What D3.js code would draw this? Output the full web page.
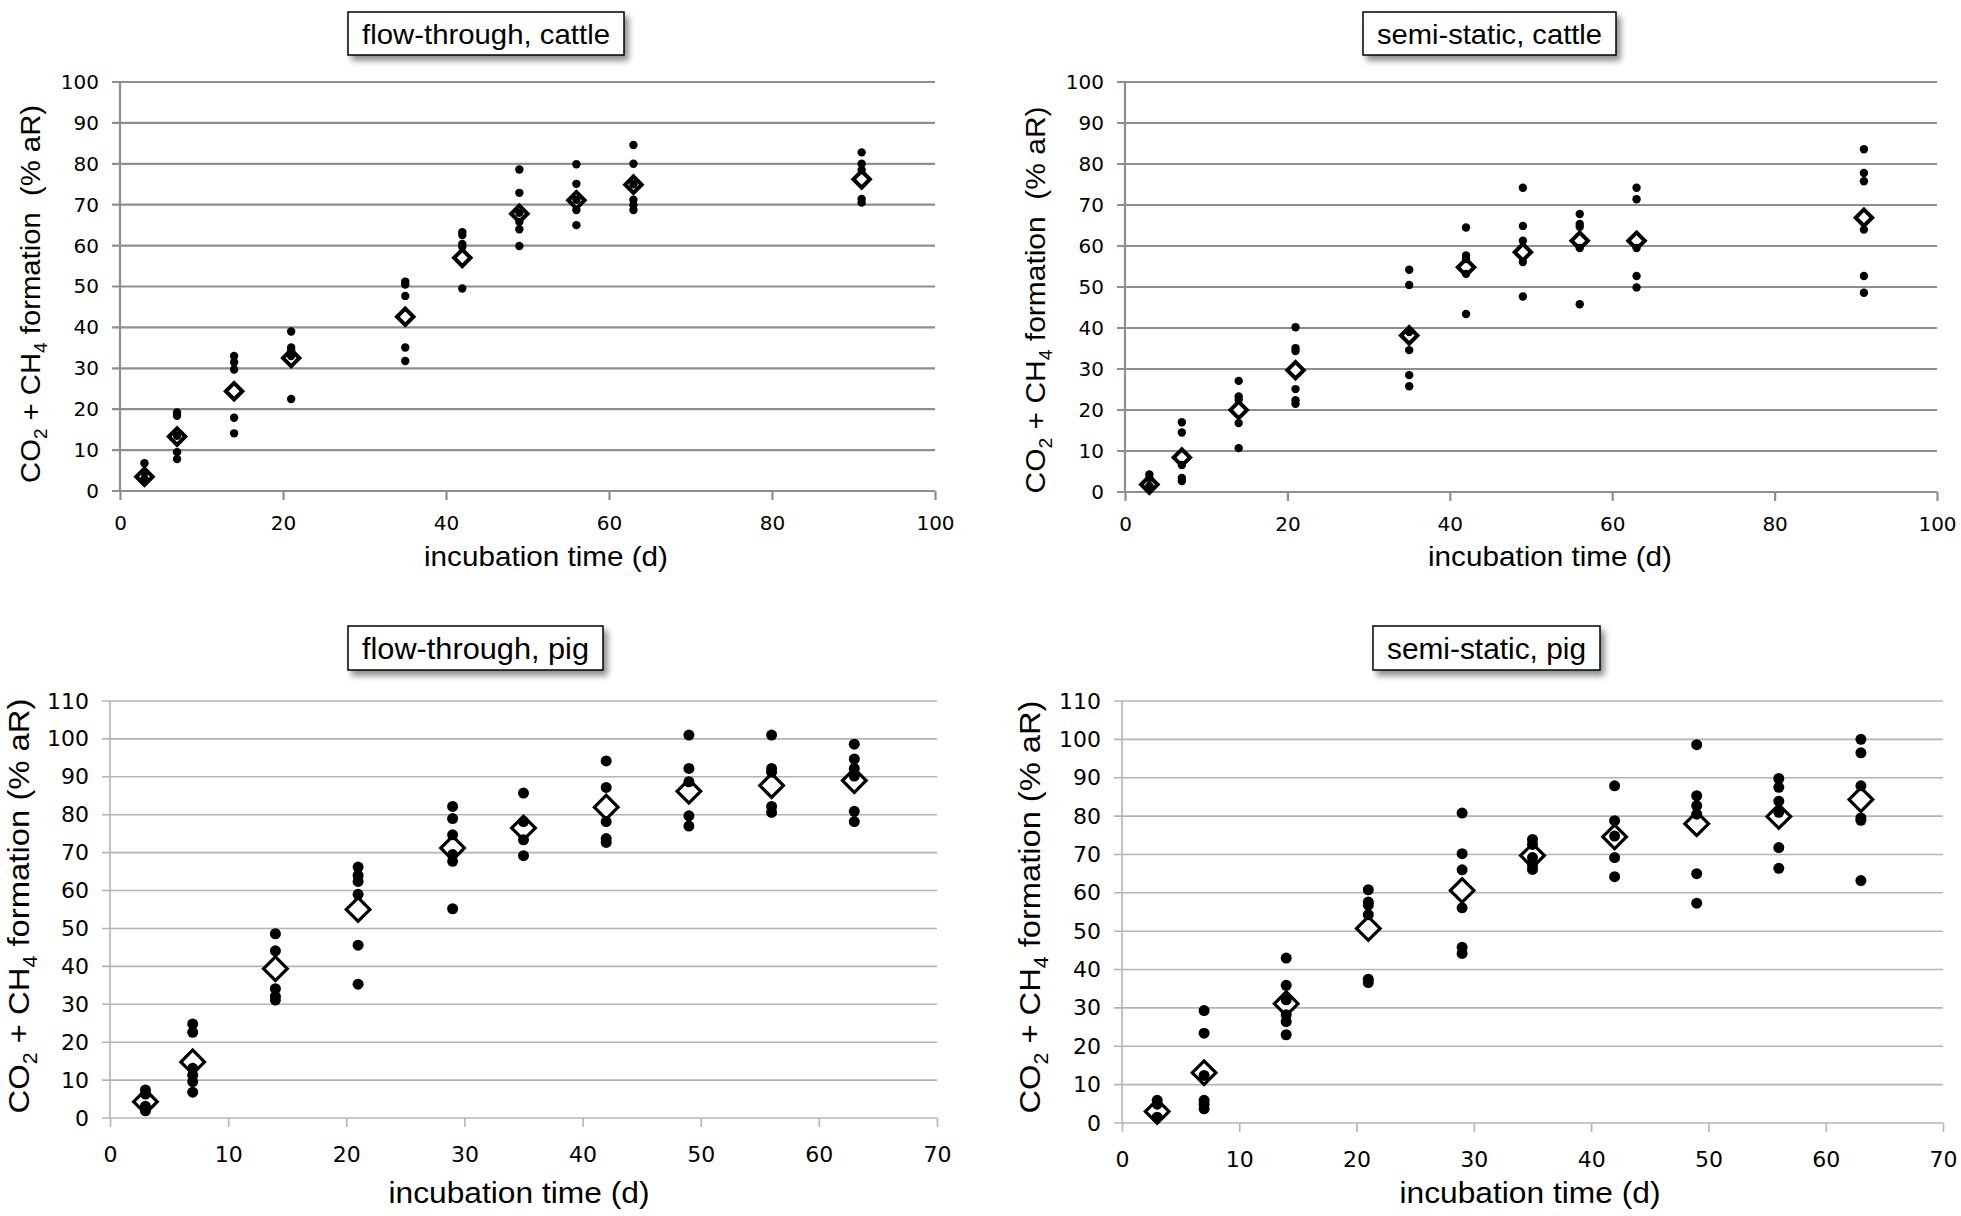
<!DOCTYPE html>
<html>
<head>
<meta charset="utf-8">
<title>CO2 + CH4 formation</title>
<script src="https://cdn.jsdelivr.net/npm/d3@7"></script>
<style>
  body { margin: 0; background: #fff; }
  text { font-family: "DejaVu Sans", sans-serif; }
</style>
</head>
<body>
<div id="chart"></div>
<script>
// incubation days
var daysCattle = [3, 7, 14, 21, 35, 42, 49, 56, 63, 91];
var daysPig = [3, 7, 14, 21, 29, 35, 42, 49, 56, 63];

// replicate values (% aR), one list per day
var ftCattleReps = [
  [6.8, 4.5, 3.0, 2.3], [19.2, 18.4, 13.5, 9.5, 7.8], [33.0, 31.5, 29.7, 17.9, 14.1],
  [39.0, 35.1, 34.4, 33.0, 22.5], [51.2, 50.5, 47.7, 35.1, 31.8], [63.3, 62.6, 60.4, 59.7, 49.5],
  [78.6, 72.9, 68.0, 65.8, 64.0, 59.9], [79.9, 75.1, 71.2, 68.7, 65.0], [84.6, 80.0, 75.0, 71.2, 69.9, 68.7],
  [82.8, 80.0, 78.5, 71.4, 70.5]
];
var ftCattleMean = [3.5, 13.3, 24.4, 32.5, 42.6, 57.0, 67.8, 71.1, 74.9, 76.2];

var ssCattleReps = [
  [4.3, 3.4, 1.5, 1.0], [17.0, 14.5, 6.6, 3.4, 2.7], [27.1, 23.3, 22.5, 16.8, 10.7],
  [40.2, 35.1, 34.4, 25.1, 22.4, 21.5], [54.2, 50.5, 39.0, 34.6, 28.5, 25.8], [64.5, 57.7, 56.8, 53.2, 43.4],
  [74.2, 64.9, 61.3, 56.1, 47.7], [67.8, 65.4, 64.7, 59.5, 45.8], [74.2, 71.4, 59.5, 52.7, 49.9],
  [83.6, 77.8, 75.8, 64.0, 52.7, 48.6]
];
var ssCattleMean = [1.8, 8.4, 20.0, 29.7, 38.2, 54.8, 58.5, 61.3, 61.3, 66.9];

var ftPigReps = [
  [7.4, 6.3, 3.1, 1.9], [24.8, 22.6, 13.1, 11.3, 9.6, 6.8], [48.6, 44.1, 34.1, 32.1, 31.1],
  [66.2, 64.0, 62.4, 59.0, 45.6, 35.3], [82.2, 79.0, 74.7, 69.5, 67.7, 55.2], [85.7, 78.2, 73.4, 69.2],
  [94.2, 87.2, 78.2, 73.7, 72.7], [101.0, 92.2, 88.7, 79.7, 77.0], [101.0, 92.2, 91.2, 82.2, 80.6],
  [98.6, 94.7, 92.2, 90.2, 80.9, 78.2]
];
var ftPigMean = [4.3, 14.8, 39.4, 55.0, 71.2, 76.5, 82.0, 86.2, 87.7, 89.0];

var ssPigReps = [
  [5.9, 4.9, 1.5], [29.3, 23.4, 12.4, 5.9, 4.9, 3.7], [43.0, 35.9, 32.1, 28.2, 26.4, 23.0],
  [60.8, 57.6, 56.8, 54.3, 37.5, 36.6], [80.8, 70.2, 66.0, 56.1, 45.8, 44.2], [73.9, 72.6, 69.2, 67.2, 66.1],
  [87.9, 78.8, 74.8, 69.2, 64.2], [98.6, 85.3, 82.7, 80.5, 65.0, 57.3], [89.8, 87.5, 83.9, 81.0, 71.8, 66.4],
  [100.0, 96.5, 87.9, 79.5, 78.9, 63.2]
];
var ssPigMean = [3.0, 13.1, 31.1, 50.7, 60.6, 69.7, 74.6, 78.0, 79.9, 84.3];

var titles = ["flow-through, cattle", "semi-static, cattle", "flow-through, pig", "semi-static, pig"];
var xTitle = "incubation time (d)";

var svg = d3.select("#chart").append("svg")
    .attr("width", 1961)
    .attr("height", 1216);

svg.append("rect").attr("width", 1961).attr("height", 1216).attr("fill", "#fff");

var defs = svg.append("defs");
var shadow = defs.append("filter").attr("id", "shadow")
    .attr("x", "-20%").attr("y", "-40%").attr("width", "140%").attr("height", "200%");
shadow.append("feGaussianBlur").attr("in", "SourceAlpha").attr("stdDeviation", 3);
shadow.append("feOffset").attr("dx", 4).attr("dy", 5).attr("result", "off");
shadow.append("feComponentTransfer").append("feFuncA").attr("type", "linear").attr("slope", 0.45);
var merge = shadow.append("feMerge");
merge.append("feMergeNode");
merge.append("feMergeNode").attr("in", "SourceGraphic");

// layout of the four panels
var panels = [
  {title: titles[0], days: daysCattle, reps: ftCattleReps, mean: ftCattleMean,
   left: 120, right: 935, top: 82, bottom: 491, xmax: 100, ymax: 100,
   box: [348, 12, 276, 43], xt: [546, 566, 244], yt: [30, 294, 378], big: false},
  {title: titles[1], days: daysCattle, reps: ssCattleReps, mean: ssCattleMean,
   left: 1125, right: 1937, top: 82, bottom: 492, xmax: 100, ymax: 100,
   box: [1363, 12, 253, 43], xt: [1550, 566, 244], yt: [1035, 300, 387], big: false},
  {title: titles[2], days: daysPig, reps: ftPigReps, mean: ftPigMean,
   left: 110, right: 937, top: 701, bottom: 1118, xmax: 70, ymax: 110,
   box: [348, 626, 255, 44], xt: [519, 1203, 261], yt: [18, 906, 415], big: true},
  {title: titles[3], days: daysPig, reps: ssPigReps, mean: ssPigMean,
   left: 1122, right: 1943, top: 701, bottom: 1123, xmax: 70, ymax: 110,
   box: [1373, 626, 227, 44], xt: [1530, 1203, 261], yt: [1029, 907, 413], big: true}
];

panels.forEach(function(p) {
  var w = p.right - p.left, h = p.bottom - p.top;
  var gridCol = p.big ? "#b4b4b4" : "#8e8e8e";
  var gridW = p.big ? 1.6 : 2.2;
  var tickFont = p.big ? 22 : 20;

  var x = d3.scaleLinear().domain([0, p.xmax]).range([0, w]);
  var y = d3.scaleLinear().domain([0, p.ymax]).range([h, 0]);

  var g = svg.append("g").attr("transform", "translate(" + p.left + "," + p.top + ")");

  // horizontal gridlines, sticking out left of the axis
  g.selectAll(".grid").data(y.ticks(p.ymax / 10)).enter().append("line")
      .attr("x1", -8).attr("x2", w)
      .attr("y1", function(d) { return y(d); })
      .attr("y2", function(d) { return y(d); })
      .attr("stroke", gridCol).attr("stroke-width", gridW);

  g.append("line").attr("x1", 0).attr("x2", 0).attr("y1", 0).attr("y2", h)
      .attr("stroke", gridCol).attr("stroke-width", gridW);

  var yAxis = g.append("g")
      .call(d3.axisLeft(y).ticks(p.ymax / 10).tickSize(0).tickPadding(21));
  var xAxis = g.append("g").attr("transform", "translate(0," + h + ")")
      .call(d3.axisBottom(x).ticks(p.xmax / (p.big ? 10 : 20)).tickSize(9).tickPadding(p.big ? 19 : 16));

  [yAxis, xAxis].forEach(function(a) {
    a.select(".domain").remove();
    a.selectAll("line").attr("stroke", gridCol).attr("stroke-width", gridW);
    a.selectAll("text").attr("fill", "#000")
        .style("font-family", "'DejaVu Sans', sans-serif")
        .style("font-size", tickFont + "px");
  });

  // means as open diamonds
  var diamond = d3.symbol().type(d3.symbolSquare).size(p.big ? 280 : 135);
  g.selectAll(".mean").data(p.mean).enter().append("path")
      .attr("d", diamond)
      .attr("transform", function(d, i) { return "translate(" + x(p.days[i]) + "," + y(d) + ") rotate(45)"; })
      .attr("fill", "#fff")
      .attr("stroke", "#000")
      .attr("stroke-width", p.big ? 3.2 : 4);

  // replicate points
  var pts = [];
  p.reps.forEach(function(list, i) {
    list.forEach(function(v) { pts.push({d: p.days[i], v: v}); });
  });
  g.selectAll(".rep").data(pts).enter().append("circle")
      .attr("cx", function(d) { return x(d.d); })
      .attr("cy", function(d) { return y(d.v); })
      .attr("r", p.big ? 5.5 : 4.2)
      .attr("fill", "#000");

  // title box
  svg.append("rect")
      .attr("x", p.box[0]).attr("y", p.box[1])
      .attr("width", p.box[2]).attr("height", p.box[3])
      .attr("fill", "#fff").attr("stroke", "#000").attr("stroke-width", 1.5)
      .attr("filter", "url(#shadow)");
  svg.append("text")
      .attr("x", p.box[0] + p.box[2] / 2)
      .attr("y", p.box[1] + p.box[3] / 2)
      .attr("dy", "0.36em")
      .attr("text-anchor", "middle")
      .attr("textLength", p.box[2] - 28)
      .attr("lengthAdjust", "spacingAndGlyphs")
      .style("font-family", "'Liberation Sans Narrow', 'Liberation Sans', sans-serif")
      .style("font-size", (p.big ? 30 : 28) + "px")
      .text(p.title);

  // x axis title
  svg.append("text")
      .attr("x", p.xt[0]).attr("y", p.xt[1])
      .attr("text-anchor", "middle")
      .attr("textLength", p.xt[2])
      .attr("lengthAdjust", "spacingAndGlyphs")
      .style("font-family", "'Liberation Sans Narrow', 'Liberation Sans', sans-serif")
      .style("font-size", (p.big ? 30 : 28) + "px")
      .text(xTitle);

  // y axis title with subscripts
  var yt = svg.append("text")
      .attr("transform", "translate(" + p.yt[0] + "," + p.yt[1] + ") rotate(-90)")
      .attr("text-anchor", "middle")
      .attr("dy", "0.36em")
      .attr("textLength", p.yt[2])
      .attr("lengthAdjust", "spacingAndGlyphs")
      .style("font-family", "'Liberation Sans', Arial, sans-serif")
      .style("font-size", (p.big ? 30 : 27) + "px");
  var sub = p.big ? 8 : 7;
  yt.append("tspan").text("CO");
  yt.append("tspan").attr("dy", sub).style("font-size", "65%").text("2");
  yt.append("tspan").attr("dy", -sub).text(" + CH");
  yt.append("tspan").attr("dy", sub).style("font-size", "65%").text("4");
  yt.append("tspan").attr("dy", -sub).text(p.big ? " formation (% aR)" : " formation\u00a0 (% aR)");
});
</script>
</body>
</html>
